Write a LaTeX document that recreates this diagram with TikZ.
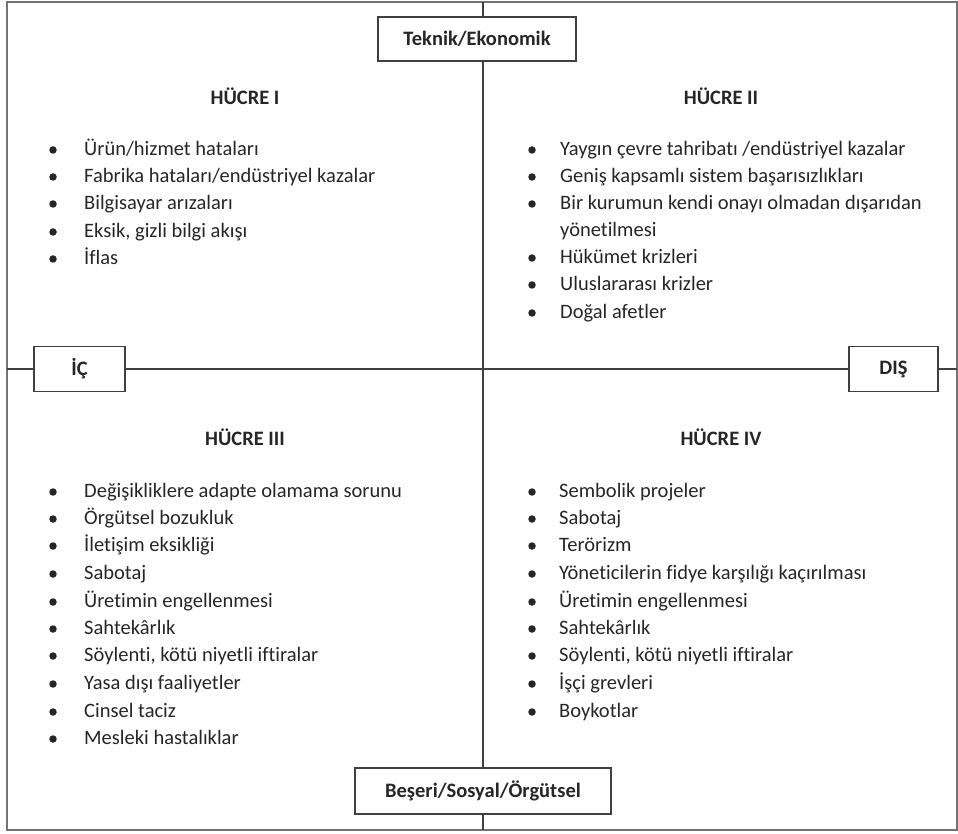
\documentclass[tikz,border=0pt]{standalone}
\usepackage{fontspec}
\setmainfont{Carlito}[Ligatures=NoCommon]

\tikzset{
  kutu/.style={draw=black!75, line width=1.3pt, fill=white, inner sep=0pt,
    text=black!85, font=\bfseries\fontsize{20.5}{24}\selectfont},
  baslik/.style={text=black!85, font=\bfseries\fontsize{20.5}{24}\selectfont},
  madde/.style={anchor=west, inner sep=0pt, text height=15pt, text depth=4pt,
    text=black!85, font=\fontsize{20.5}{24}\selectfont},
  nokta/.style={circle, fill=black!85, inner sep=0pt, minimum size=7.5pt},
  cizgi/.style={draw=black!75, line width=1.3pt}
}

\begin{document}
\begin{tikzpicture}[x=1pt, y=-1pt]
      \useasboundingbox (0,0) rectangle (958,834);

      % Dış çerçeve
      \draw[black!55, line width=2pt] (7,2) rectangle (957,830);
      \coordinate (ust) at (483,2);
      \coordinate (alt) at (483,830);
      \coordinate (sol) at (7,369);
      \coordinate (sag) at (957,369);

      % Eksen kutuları
      \node[kutu, minimum width=198pt, minimum height=44pt] (teknik) at (477,39) {Teknik/Ekonomik};
      \node[kutu, minimum width=256pt, minimum height=46pt] (beseri) at (483,791) {Beşeri/Sosyal/Örgütsel};
      \node[kutu, minimum width=91pt, minimum height=45pt] (ic) at (79.5,369) {İÇ};
      \node[kutu, minimum width=89pt, minimum height=45pt] (dis) at (893.5,369) {DIŞ};

      % Eksen çizgileri
      \draw[cizgi] (ust) -- (ust |- teknik.north);
      \draw[cizgi] (ust |- teknik.south) -- (beseri.north);
      \draw[cizgi] (beseri.south) -- (alt);
      \draw[cizgi] (sol) -- (ic.west);
      \draw[cizgi] (ic.east) -- (dis.west);
      \draw[cizgi] (dis.east) -- (sag);

      % HÜCRE I
      \node[baslik] (h1) at (245,96) {HÜCRE I};
      \foreach \y/\t [count=\i] in {150/{Ürün/hizmet hataları},
          177/{Fabrika hataları/endüstriyel kazalar}, 204/{Bilgisayar arızaları},
          232/{Eksik, gizli bilgi akışı}, 259/{İflas}} {
        \node[nokta] (h1n\i) at (53,\y) {};
        \node[madde] (h1m\i) at (84,\y) {\t};
      }

      % HÜCRE II
      \node[baslik] (h2) at (721,96) {HÜCRE II};
      \foreach \y/\t [count=\i] in {150/{Yaygın çevre tahribatı /endüstriyel kazalar},
          177/{Geniş kapsamlı sistem başarısızlıkları},
          204/{Bir kurumun kendi onayı olmadan dışarıdan},
          258/{Hükümet krizleri}, 285/{Uluslararası krizler}, 313/{Doğal afetler}} {
        \node[nokta] (h2n\i) at (532,\y) {};
        \node[madde] (h2m\i) at (560,\y) {\t};
      }
      \node[madde] (h2m3b) at (560,231) {yönetilmesi};

      % HÜCRE III
      \node[baslik] (h3) at (245,437) {HÜCRE III};
      \foreach \y/\t [count=\i] in {492/{Değişikliklere adapte olamama sorunu},
          519/{Örgütsel bozukluk}, 546/{İletişim eksikliği}, 574/{Sabotaj},
          602/{Üretimin engellenmesi}, 629/{Sahtekârlık},
          656/{Söylenti, kötü niyetli iftiralar}, 684/{Yasa dışı faaliyetler},
          712/{Cinsel taciz}, 739/{Mesleki hastalıklar}} {
        \node[nokta] (h3n\i) at (53,\y) {};
        \node[madde] (h3m\i) at (84,\y) {\t};
      }

      % HÜCRE IV
      \node[baslik] (h4) at (721,437) {HÜCRE IV};
      \foreach \y/\t [count=\i] in {492/{Sembolik projeler}, 519/{Sabotaj},
          546/{Terörizm}, 574/{Yöneticilerin fidye karşılığı kaçırılması},
          602/{Üretimin engellenmesi}, 629/{Sahtekârlık},
          656/{Söylenti, kötü niyetli iftiralar}, 684/{İşçi grevleri},
          712/{Boykotlar}} {
        \node[nokta] (h4n\i) at (532,\y) {};
        \node[madde] (h4m\i) at (559,\y) {\t};
      }
    \end{tikzpicture}
\end{document}
